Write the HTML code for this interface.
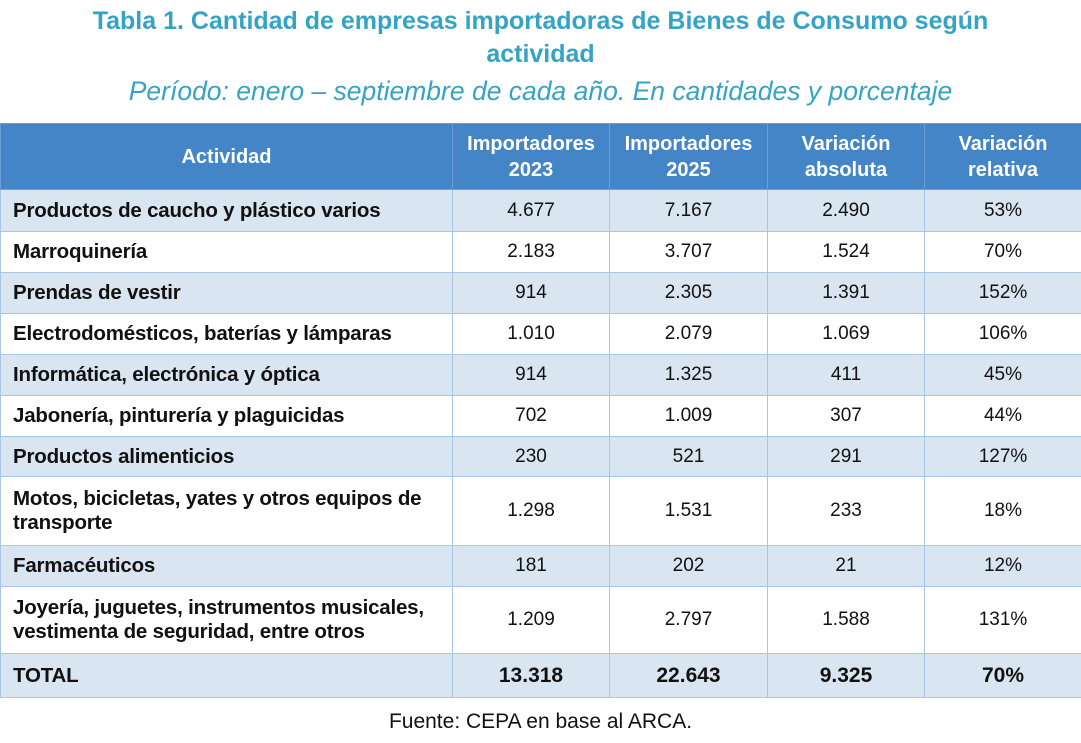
<!DOCTYPE html><html><head><meta charset="utf-8"><style>
body{margin:0;width:1081px;height:743px;background:#fff;font-family:"Liberation Sans",sans-serif;position:relative;overflow:hidden}
.t{position:absolute;left:0;width:1081px;text-align:center;color:#35a3c6}
table{position:absolute;left:0;top:123px;border-collapse:collapse;width:1081px;table-layout:fixed}
td,th{border:1px solid #a9c6e6;padding:0 8px;font-size:19px;color:#111}
th{background:#4385c6;color:#fff;font-weight:bold;height:65px;line-height:26px;border-color:#6a9fd6;font-size:20px}
td{text-align:center}
td:first-child{text-align:left;font-weight:bold;line-height:24px;padding-left:12px;font-size:20.5px;letter-spacing:-0.2px}
tr.a td{background:#dae5f2}
</style></head><body>
<div class="t" style="top:5px;font-size:25px;font-weight:bold;line-height:33px">Tabla 1. Cantidad de empresas importadoras de Bienes de Consumo según<br>actividad</div>
<div class="t" style="top:76px;font-size:26.5px;font-style:italic">Período: enero – septiembre de cada año. En cantidades y porcentaje</div>
<table>
<colgroup><col style="width:452px"><col style="width:157px"><col style="width:158px"><col style="width:157px"><col style="width:157px"></colgroup>
<tr><th>Actividad</th><th>Importadores 2023</th><th>Importadores 2025</th><th>Variación absoluta</th><th>Variación relativa</th></tr>
<tr class="a" style="height:42px"><td>Productos de caucho y plástico varios</td><td>4.677</td><td>7.167</td><td>2.490</td><td>53%</td></tr>
<tr style="height:41px"><td>Marroquinería</td><td>2.183</td><td>3.707</td><td>1.524</td><td>70%</td></tr>
<tr class="a" style="height:41px"><td>Prendas de vestir</td><td>914</td><td>2.305</td><td>1.391</td><td>152%</td></tr>
<tr style="height:41px"><td>Electrodomésticos, baterías y lámparas</td><td>1.010</td><td>2.079</td><td>1.069</td><td>106%</td></tr>
<tr class="a" style="height:41px"><td>Informática, electrónica y óptica</td><td>914</td><td>1.325</td><td>411</td><td>45%</td></tr>
<tr style="height:41px"><td>Jabonería, pinturería y plaguicidas</td><td>702</td><td>1.009</td><td>307</td><td>44%</td></tr>
<tr class="a" style="height:40px"><td>Productos alimenticios</td><td>230</td><td>521</td><td>291</td><td>127%</td></tr>
<tr style="height:69px"><td>Motos, bicicletas, yates y otros equipos de transporte</td><td>1.298</td><td>1.531</td><td>233</td><td>18%</td></tr>
<tr class="a" style="height:41px"><td>Farmacéuticos</td><td>181</td><td>202</td><td>21</td><td>12%</td></tr>
<tr style="height:67px"><td>Joyería, juguetes, instrumentos musicales, vestimenta de seguridad, entre otros</td><td>1.209</td><td>2.797</td><td>1.588</td><td>131%</td></tr>
<tr class="a" style="height:44px;font-weight:bold"><td>TOTAL</td><td style="font-weight:bold;font-size:21px">13.318</td><td style="font-weight:bold;font-size:21px">22.643</td><td style="font-weight:bold;font-size:21px">9.325</td><td style="font-weight:bold;font-size:21px">70%</td></tr>
</table>
<div class="t" style="top:710px;font-size:21px;color:#111">Fuente: CEPA en base al ARCA.</div>
</body></html>
